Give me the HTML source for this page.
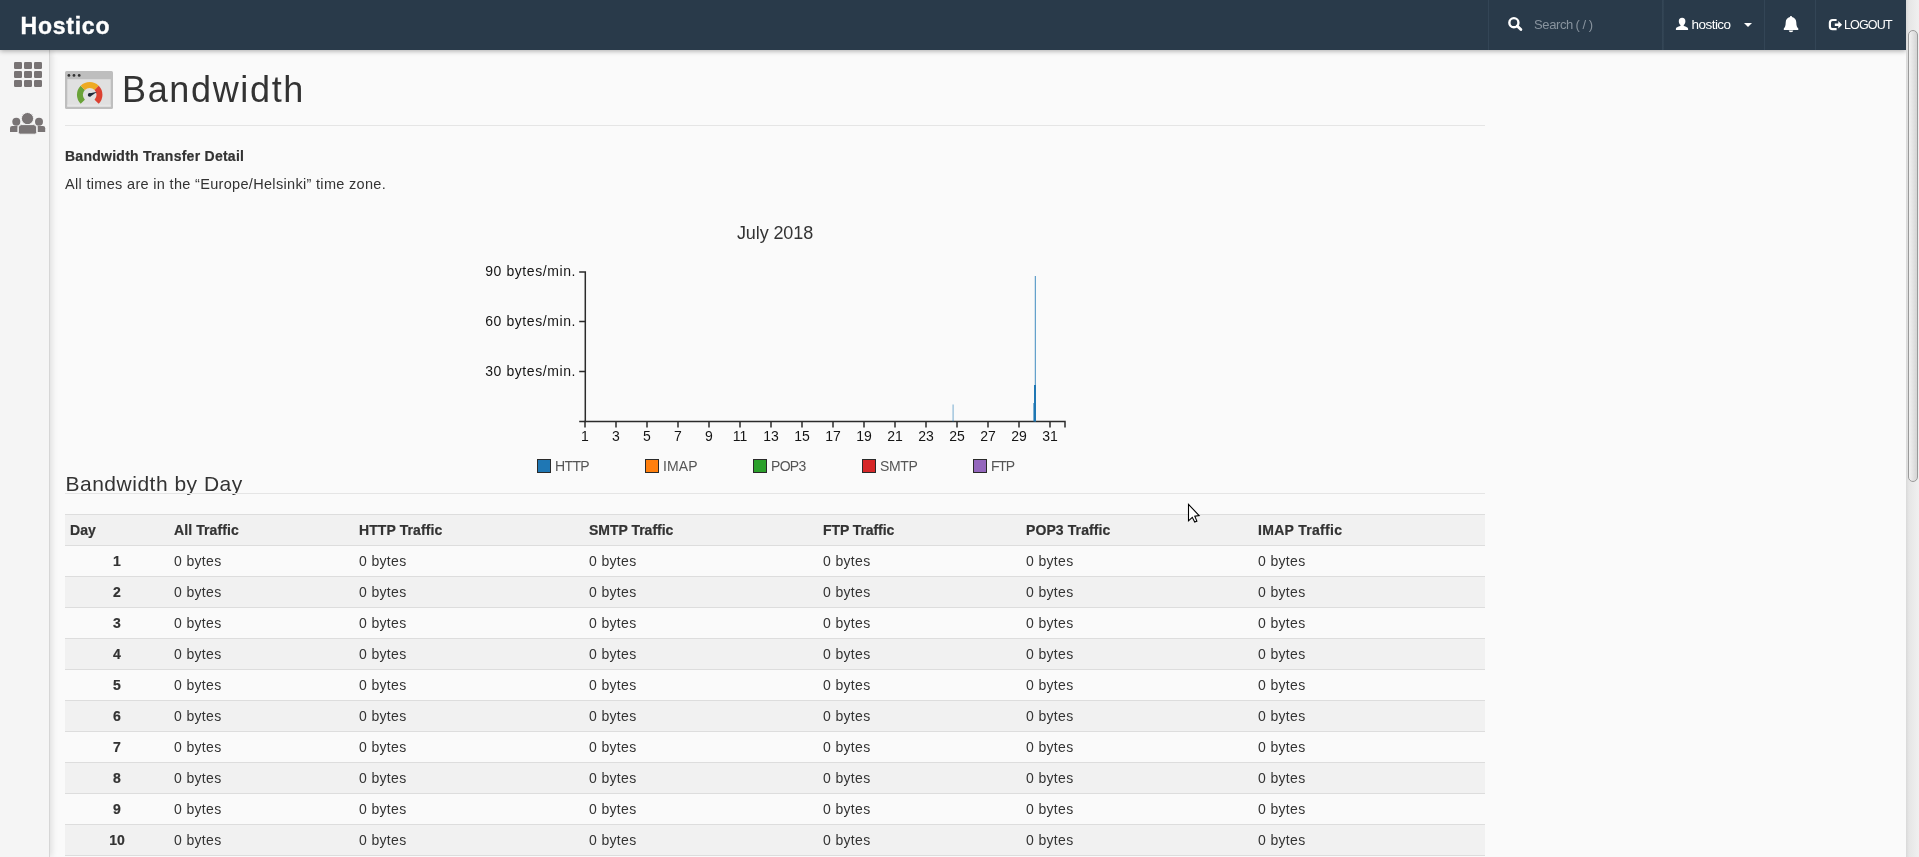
<!DOCTYPE html>
<html>
<head>
<meta charset="utf-8">
<title>Bandwidth</title>
<style>
html,body{margin:0;padding:0;}
html{width:1919px;height:857px;overflow:hidden;}
body{width:1919px;height:857px;overflow:hidden;position:relative;background:#fafafa;font-family:"Liberation Sans",sans-serif;font-size:14px;color:#333;}
*{box-sizing:border-box;}
.abs{position:absolute;white-space:nowrap;}
#hdr{position:absolute;left:0;top:0;width:1906px;height:50px;background:#293a4a;box-shadow:0 1px 5px rgba(0,0,0,.33);z-index:5;}
#brand{left:20.6px;top:10px;-webkit-text-stroke:.35px #fff;font-size:23px;font-weight:bold;color:#fff;line-height:32px;letter-spacing:.75px;}
.sep{position:absolute;top:0;width:1px;height:50px;background:#334556;}
#side{position:absolute;left:0;top:50px;width:50px;height:807px;background:#f5f5f5;border-right:1px solid #d6d6d6;box-shadow:2px 0 6px rgba(0,0,0,.11);z-index:3;}
#sb{position:absolute;left:1906px;top:0;width:13px;height:857px;background:linear-gradient(90deg,#d9d9d9 0,#e6e6e6 3px,#f0f0f0 100%);z-index:9;}
#thumb{position:absolute;left:2px;top:30px;width:10px;height:452px;border:1px solid #9a9a9a;border-radius:5px;background:linear-gradient(90deg,#f2f2f2,#d4d4d4);}
h1{position:absolute;left:122px;top:64px;margin:0;font-size:36px;font-weight:normal;line-height:52px;color:#333;letter-spacing:1.65px;white-space:nowrap;}
.hr{position:absolute;left:65px;width:1420px;height:1px;background:#e5e5e5;}
#t1{left:65px;top:146px;font-weight:bold;line-height:20px;letter-spacing:.26px;-webkit-text-stroke:.2px #333;}
#t2{left:65px;top:174px;line-height:20px;font-size:14.5px;letter-spacing:.32px;}
#h4{left:65.5px;top:468px;font-size:21px;line-height:32px;color:#333;letter-spacing:.5px;}
table{position:absolute;left:65px;top:514px;width:1420px;border-collapse:collapse;table-layout:fixed;font-size:14px;}
th,td{height:31px;padding:0 5px;text-align:left;border-top:1px solid #ddd;line-height:20px;white-space:nowrap;}
th{font-weight:bold;background:#f1f1f1;letter-spacing:.1px;-webkit-text-stroke:.2px #333;}
tr.e td{background:#f1f1f1;}
td.d{text-align:center;font-weight:bold;letter-spacing:0;-webkit-text-stroke:.2px #333;}
td{letter-spacing:.35px;}
#srch{left:1534px;top:15px;font-size:13px;line-height:20px;color:#88939e;letter-spacing:0;word-spacing:-1px;will-change:transform;}
#usr{left:1691.6px;top:14.6px;font-size:13.5px;line-height:20px;color:#fff;letter-spacing:-.55px;}
#lgo{left:1844px;top:15px;font-size:12.5px;line-height:20px;color:#fff;letter-spacing:-.85px;}
#wrap{position:absolute;left:0;top:0;width:1919px;height:857px;overflow:hidden;will-change:transform;}
</style>
</head>
<body>
<div id="wrap">
<div id="hdr">
  <div id="brand" class="abs">Hostico</div>
  <div class="sep" style="left:1488px"></div>
  <div class="sep" style="left:1662px;width:2px;background:linear-gradient(90deg,#354757,#2f4151)"></div>
  <div class="sep" style="left:1764px"></div>
  <div class="sep" style="left:1815px"></div>
  <svg class="abs" style="left:1506px;top:15px" width="18" height="18" viewBox="0 0 18 18"><circle cx="7.9" cy="7.7" r="4.55" fill="none" stroke="#fff" stroke-width="2.4"/><path d="M11.2 11 L14.9 14.6" stroke="#fff" stroke-width="2.8" stroke-linecap="round"/></svg>
  <div id="srch" class="abs"><span style="letter-spacing:-.38px">Search</span> ( / )</div>
  <svg class="abs" style="left:1675px;top:17px" width="14" height="14" viewBox="0 0 14 14"><path d="M7.1 0.7 C9.3 0.7 10.4 2.2 10.4 4.2 C10.4 6 9.6 7.3 8.7 8 L8.7 8.7 C9.6 9.5 12.7 9.7 13.1 11.7 L13.1 12.9 L0.9 12.9 L0.9 11.7 C1.3 9.7 4.6 9.5 5.5 8.7 L5.5 8 C4.6 7.3 3.8 6 3.8 4.2 C3.8 2.2 4.9 0.7 7.1 0.7 Z" fill="#fff"/></svg>
  <div id="usr" class="abs">hostico</div>
  <div class="abs" style="left:1744px;top:23px;width:0;height:0;border-left:4px solid transparent;border-right:4px solid transparent;border-top:4px solid #fff;"></div>
  <svg class="abs" style="left:1783px;top:15px" width="16" height="18" viewBox="0 0 16 18"><path d="M8 0.9 C8.7 0.9 9.05 1.4 9.05 2.1 C11.7 2.7 13.3 4.8 13.3 7.6 C13.3 10.6 14 12.3 15.3 13.6 L15.3 14.9 L0.8 14.9 L0.8 13.6 C2 12.3 2.7 10.6 2.7 7.6 C2.7 4.8 4.3 2.7 6.95 2.1 C6.95 1.4 7.3 0.9 8 0.9 Z M5.8 15.5 L10.2 15.5 C10.2 16.6 9.2 17.2 8 17.2 C6.8 17.2 5.8 16.6 5.8 15.5 Z" fill="#fff"/></svg>
  <svg class="abs" style="left:1828px;top:18px" width="16" height="14" viewBox="0 0 16 14"><path d="M8.6 2 L4.6 2 C2.9 2 1.9 3 1.9 4.7 L1.9 8.5 C1.9 10.2 2.9 11.2 4.6 11.2 L8.6 11.2" fill="none" stroke="#fff" stroke-width="2.2" stroke-linecap="butt"/><path d="M6.8 5.4 L10.3 5.4 L10.3 2.9 L14.1 6.65 L10.3 10.4 L10.3 7.9 L6.8 7.9 Z" fill="#fff"/></svg>
  <div id="lgo" class="abs">LOGOUT</div>
</div>
<div id="side">
  <svg class="abs" style="left:14px;top:12px" width="28" height="25" viewBox="0 0 28 25" fill="#797475">
    <rect x="0" y="0" width="8" height="7" rx="1.2"/><rect x="10" y="0" width="8" height="7" rx="1.2"/><rect x="20" y="0" width="8" height="7" rx="1.2"/>
    <rect x="0" y="9" width="8" height="7" rx="1.2"/><rect x="10" y="9" width="8" height="7" rx="1.2"/><rect x="20" y="9" width="8" height="7" rx="1.2"/>
    <rect x="0" y="18" width="8" height="7" rx="1.2"/><rect x="10" y="18" width="8" height="7" rx="1.2"/><rect x="20" y="18" width="8" height="7" rx="1.2"/>
  </svg>
  <svg class="abs" style="left:9px;top:62px" width="38" height="24" viewBox="0 0 38 24">
    <g fill="#797475">
    <circle cx="7.3" cy="9.8" r="4"/><path d="M1 20 L1 16.2 Q1 14 3.2 14 L8.5 14 L8.5 20 Z"/>
    <circle cx="30" cy="9.8" r="4"/><path d="M36.2 20 L36.2 16.2 Q36.2 14 34 14 L28.7 14 L28.7 20 Z"/>
    </g>
    <g fill="#797475" stroke="#f5f5f5" stroke-width="1">
    <circle cx="18.5" cy="6.6" r="6.1"/>
    <path d="M9.3 20.4 L9.3 15.8 Q9.3 12.6 12.5 12.6 L24.5 12.6 Q27.7 12.6 27.7 15.8 L27.7 20.4 Q27.7 22.2 25.9 22.2 L11.1 22.2 Q9.3 22.2 9.3 20.4 Z"/>
    </g>
  </svg>
</div>
<svg class="abs" style="left:65px;top:71px" width="48" height="38" viewBox="0 0 48 38">
  <rect x="0" y="0" width="48" height="38" rx="1.5" fill="#bebebe"/>
  <rect x="2.3" y="8.2" width="43.4" height="27.4" fill="#e0e0e0"/>
  <rect x="2.3" y="33.6" width="43.4" height="2" fill="#e6e6e6"/>
  <circle cx="3.9" cy="4.4" r="1.4" fill="#333"/><circle cx="9" cy="4.4" r="1.4" fill="#333"/><circle cx="14.2" cy="4.4" r="1.4" fill="#333"/>
  <g fill="none" stroke-width="5.9">
    <path d="M17.77 30.73 A9.8 9.8 0 0 1 17.77 16.87" stroke="#6aa338"/>
    <path d="M17.77 16.87 A9.8 9.8 0 0 1 31.63 16.87" stroke="#eeaa23"/>
    <path d="M31.63 16.87 A9.8 9.8 0 0 1 31.63 30.73" stroke="#dc4131"/>
  </g>
  <circle cx="24.6" cy="23.9" r="1.8" fill="#1f2a38"/>
  <path d="M24 22.5 L32.2 20.7 L25.3 25.4 Z" fill="#1f2a38"/>
</svg>
<h1>Bandwidth</h1>
<div class="hr" style="top:125px"></div>
<div id="t1" class="abs">Bandwidth Transfer Detail</div>
<div id="t2" class="abs">All times are in the “Europe/Helsinki” time zone.</div>
<svg class="abs" id="chart" style="left:460px;top:210px" width="640" height="275" viewBox="460 210 640 275" font-family="Liberation Sans, sans-serif">
<text x="775" y="239" text-anchor="middle" font-size="18" fill="#333" letter-spacing="-.1">July 2018</text>
<g stroke="#2b2b2b" stroke-width="1.5" fill="none">
<path d="M579.2 272 H585.3 V421.5 H579.2"/>
<path d="M579.2 321.5 H585.3 M579.2 371.5 H585.3"/>
<path d="M585 427.6 V421.5 H1065 V427.6 M616.0 421.5 V427.6 M647.0 421.5 V427.6 M678.0 421.5 V427.6 M709.0 421.5 V427.6 M740.0 421.5 V427.6 M771.0 421.5 V427.6 M802.0 421.5 V427.6 M833.0 421.5 V427.6 M864.0 421.5 V427.6 M895.0 421.5 V427.6 M926.0 421.5 V427.6 M957.0 421.5 V427.6 M988.0 421.5 V427.6 M1019.0 421.5 V427.6 M1050.0 421.5 V427.6"/>
</g>
<text x="576" y="275.5" text-anchor="end" font-size="14" fill="#151515" letter-spacing=".58">90 bytes/min.</text>
<text x="576" y="325.5" text-anchor="end" font-size="14" fill="#151515" letter-spacing=".58">60 bytes/min.</text>
<text x="576" y="375.5" text-anchor="end" font-size="14" fill="#151515" letter-spacing=".58">30 bytes/min.</text>
<text x="585.0" y="440.5" text-anchor="middle" font-size="14" fill="#151515">1</text>
<text x="616.0" y="440.5" text-anchor="middle" font-size="14" fill="#151515">3</text>
<text x="647.0" y="440.5" text-anchor="middle" font-size="14" fill="#151515">5</text>
<text x="678.0" y="440.5" text-anchor="middle" font-size="14" fill="#151515">7</text>
<text x="709.0" y="440.5" text-anchor="middle" font-size="14" fill="#151515">9</text>
<text x="740.0" y="440.5" text-anchor="middle" font-size="14" fill="#151515">11</text>
<text x="771.0" y="440.5" text-anchor="middle" font-size="14" fill="#151515">13</text>
<text x="802.0" y="440.5" text-anchor="middle" font-size="14" fill="#151515">15</text>
<text x="833.0" y="440.5" text-anchor="middle" font-size="14" fill="#151515">17</text>
<text x="864.0" y="440.5" text-anchor="middle" font-size="14" fill="#151515">19</text>
<text x="895.0" y="440.5" text-anchor="middle" font-size="14" fill="#151515">21</text>
<text x="926.0" y="440.5" text-anchor="middle" font-size="14" fill="#151515">23</text>
<text x="957.0" y="440.5" text-anchor="middle" font-size="14" fill="#151515">25</text>
<text x="988.0" y="440.5" text-anchor="middle" font-size="14" fill="#151515">27</text>
<text x="1019.0" y="440.5" text-anchor="middle" font-size="14" fill="#151515">29</text>
<text x="1050.0" y="440.5" text-anchor="middle" font-size="14" fill="#151515">31</text>
<rect x="952.5" y="404.5" width="1.2" height="17" fill="#1f77b4" opacity=".5"/>
<rect x="1034.8" y="276" width="1" height="145.5" fill="#1f77b4" opacity=".85"/>
<rect x="1034" y="385" width="2" height="36.5" fill="#1f77b4"/>
<rect x="1033.2" y="403" width="1" height="18.5" fill="#1f77b4" opacity=".7"/>
<rect x="537.5" y="459.5" width="13" height="13" fill="#1f77b4" stroke="#2a2a2a" stroke-width="1"/>
<text x="555" y="470.8" font-size="14" fill="#555" textLength="34.7" lengthAdjust="spacing">HTTP</text>
<rect x="645.5" y="459.5" width="13" height="13" fill="#ff7f0e" stroke="#2a2a2a" stroke-width="1"/>
<text x="663" y="470.8" font-size="14" fill="#555" textLength="34.7" lengthAdjust="spacing">IMAP</text>
<rect x="753.5" y="459.5" width="13" height="13" fill="#2ca02c" stroke="#2a2a2a" stroke-width="1"/>
<text x="771" y="470.8" font-size="14" fill="#555" textLength="35.3" lengthAdjust="spacing">POP3</text>
<rect x="862.5" y="459.5" width="13" height="13" fill="#d62728" stroke="#2a2a2a" stroke-width="1"/>
<text x="880" y="470.8" font-size="14" fill="#555" textLength="37.9" lengthAdjust="spacing">SMTP</text>
<rect x="973.5" y="459.5" width="13" height="13" fill="#9467bd" stroke="#2a2a2a" stroke-width="1"/>
<text x="991" y="470.8" font-size="14" fill="#555" textLength="24.0" lengthAdjust="spacing">FTP</text>
</svg>
<svg class="abs" style="left:1180px;top:496px;z-index:20" width="30" height="34" viewBox="1180 496 30 34"><path d="M1188.5 504.3 L1188.5 520.8 L1192.3 517.3 L1194.7 522.1 L1196.9 521.1 L1194.8 516.1 L1199.1 515.6 Z" fill="#fff" stroke="#000" stroke-width="1.1" stroke-linejoin="miter"/></svg>
<div id="h4" class="abs">Bandwidth by Day</div>
<div class="hr" style="top:493px"></div>
<table>
<colgroup><col style="width:104px"><col style="width:185px"><col style="width:230px"><col style="width:234px"><col style="width:203px"><col style="width:232px"><col style="width:232px"></colgroup>
<tr><th>Day</th><th>All Traffic</th><th>HTTP Traffic</th><th style="letter-spacing:-.02px">SMTP Traffic</th><th style="letter-spacing:-.08px">FTP Traffic</th><th>POP3 Traffic</th><th style="letter-spacing:.3px">IMAP Traffic</th></tr>
<tr><td class="d">1</td><td>0 bytes</td><td>0 bytes</td><td>0 bytes</td><td>0 bytes</td><td>0 bytes</td><td>0 bytes</td></tr>
<tr class="e"><td class="d">2</td><td>0 bytes</td><td>0 bytes</td><td>0 bytes</td><td>0 bytes</td><td>0 bytes</td><td>0 bytes</td></tr>
<tr><td class="d">3</td><td>0 bytes</td><td>0 bytes</td><td>0 bytes</td><td>0 bytes</td><td>0 bytes</td><td>0 bytes</td></tr>
<tr class="e"><td class="d">4</td><td>0 bytes</td><td>0 bytes</td><td>0 bytes</td><td>0 bytes</td><td>0 bytes</td><td>0 bytes</td></tr>
<tr><td class="d">5</td><td>0 bytes</td><td>0 bytes</td><td>0 bytes</td><td>0 bytes</td><td>0 bytes</td><td>0 bytes</td></tr>
<tr class="e"><td class="d">6</td><td>0 bytes</td><td>0 bytes</td><td>0 bytes</td><td>0 bytes</td><td>0 bytes</td><td>0 bytes</td></tr>
<tr><td class="d">7</td><td>0 bytes</td><td>0 bytes</td><td>0 bytes</td><td>0 bytes</td><td>0 bytes</td><td>0 bytes</td></tr>
<tr class="e"><td class="d">8</td><td>0 bytes</td><td>0 bytes</td><td>0 bytes</td><td>0 bytes</td><td>0 bytes</td><td>0 bytes</td></tr>
<tr><td class="d">9</td><td>0 bytes</td><td>0 bytes</td><td>0 bytes</td><td>0 bytes</td><td>0 bytes</td><td>0 bytes</td></tr>
<tr class="e"><td class="d">10</td><td>0 bytes</td><td>0 bytes</td><td>0 bytes</td><td>0 bytes</td><td>0 bytes</td><td>0 bytes</td></tr>
<tr><td class="d">11</td><td>0 bytes</td><td>0 bytes</td><td>0 bytes</td><td>0 bytes</td><td>0 bytes</td><td>0 bytes</td></tr>
</table>
</div>
<div id="sb"><div id="thumb"></div></div>
</body>
</html>
